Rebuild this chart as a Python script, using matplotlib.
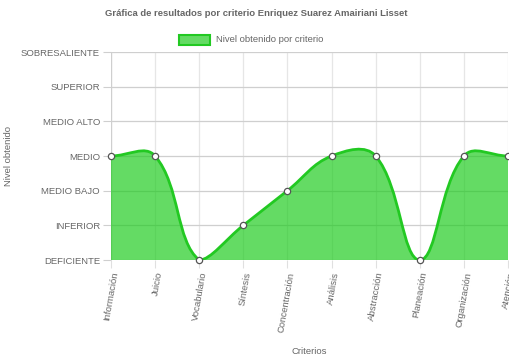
import numpy as np
import matplotlib
matplotlib.use("Agg")
import matplotlib.pyplot as plt
from matplotlib.path import Path
from matplotlib.patches import PathPatch, Rectangle

plt.rcParams['font.family'] = ['Liberation Sans', 'DejaVu Sans']

levels = ["DEFICIENTE", "INFERIOR", "MEDIO BAJO", "MEDIO", "MEDIO ALTO", "SUPERIOR", "SOBRESALIENTE"]
categories = ["Información", "Juicio", "Vocabulario", "Síntesis", "Concentración",
              "Análisis", "Abstracción", "Planeación", "Organización", "Atención"]
values = ["MEDIO", "MEDIO", "DEFICIENTE", "INFERIOR", "MEDIO BAJO",
          "MEDIO", "MEDIO", "DEFICIENTE", "MEDIO", "MEDIO"]

title = "Gráfica de resultados por criterio Enriquez Suarez Amairiani Lisset"
legend_label = "Nivel obtenido por criterio"
ylabel = "Nivel obtenido"
xlabel = "Criterios"

W, H = 510, 361
fig = plt.figure(figsize=(W / 100, H / 100), dpi=100)
L, R, T, B = 111, 508, 52, 260
ax = fig.add_axes([L / W, 1 - B / H, (R - L) / W, (B - T) / H])

n = len(categories)
xs = np.arange(n, dtype=float)
ys = np.array([levels.index(v) for v in values], dtype=float)
ax.set_xlim(0, n - 1)
ax.set_ylim(0, len(levels) - 1)

# Chart.js-style spline (tension 0.4), computed in pixel space, capped to area
sx = (R - L) / (n - 1)
sy = (B - T) / (len(levels) - 1)
P = np.column_stack([xs * sx, ys * sy])
t = 0.4
cps = []
lo = np.array([0.0, 0.0])
hi = np.array([(n - 1) * sx, (len(levels) - 1) * sy])
for i in range(n):
    prev = P[i - 1] if i > 0 else P[i]
    cur = P[i]
    nxt = P[i + 1] if i < n - 1 else P[i]
    d01 = np.hypot(*(cur - prev))
    d12 = np.hypot(*(nxt - cur))
    tot = d01 + d12
    s01 = d01 / tot if tot else 0
    s12 = d12 / tot if tot else 0
    cp_prev = np.clip(cur - t * s01 * (nxt - prev), lo, hi)
    cp_next = np.clip(cur + t * s12 * (nxt - prev), lo, hi)
    cps.append((cp_prev, cp_next))

def to_data(p):
    return (p[0] / sx, p[1] / sy)

verts = [to_data(P[0])]
codes = [Path.MOVETO]
for i in range(1, n):
    verts += [to_data(cps[i - 1][1]), to_data(cps[i][0]), to_data(P[i])]
    codes += [Path.CURVE4] * 3
line_path = Path(verts, codes)
fill_verts = verts + [(xs[-1], 0), (xs[0], 0), verts[0]]
fill_codes = codes + [Path.LINETO, Path.LINETO, Path.CLOSEPOLY]
fill_path = Path(fill_verts, fill_codes)

line_col = "#22c922"
fill_rgba = (34 / 255, 204 / 255, 34 / 255, 0.7)
ax.add_patch(PathPatch(fill_path, facecolor=fill_rgba, edgecolor='none', zorder=2))
ax.add_patch(PathPatch(line_path, facecolor='none', edgecolor=line_col, lw=2.0, zorder=3))
ax.plot(xs, ys, 'o', mfc='white', mec='#555555', mew=0.9, ms=4.5, zorder=4, clip_on=False)

# grid & ticks
ax.set_xticks(xs)
ax.set_xticklabels(categories, rotation=80, ha='right', va='top', rotation_mode='anchor')
ax.set_yticks(np.arange(len(levels)))
ax.set_yticklabels(levels)
for s in ax.spines.values():
    s.set_visible(False)
ax.grid(True, axis='x', color='#e6e6e6', lw=0.9, zorder=0)
ax.grid(True, axis='y', color='#cfcfcf', lw=0.9, zorder=0)
ax.set_axisbelow(True)
ax.tick_params(axis='x', length=6, color='#e0e0e0', labelsize=6.8, labelcolor='#666666', pad=2)
ax.tick_params(axis='y', length=6, color='#cfcfcf', labelsize=6.8, labelcolor='#666666', pad=2)
ax.axvline(0, color='#cfcfcf', lw=0.9, zorder=1)

fig.text(256 / W, 1 - 13 / H, title, ha='center', va='center', fontsize=6.8,
         fontweight='bold', color='#666666')
fig.patches.append(Rectangle((179 / W, 1 - 45 / H), 31 / W, 10 / H, transform=fig.transFigure,
                             facecolor=fill_rgba, edgecolor=line_col, lw=1.5))
fig.text(216 / W, 1 - 39.5 / H, legend_label, ha='left', va='center', fontsize=6.8, color='#666666')
fig.text(9 / W, 1 - 156 / H, ylabel, ha='center', va='center', rotation=90, fontsize=6.8, color='#666666')
fig.text(309 / W, 1 - 351 / H, xlabel, ha='center', va='center', fontsize=6.8, color='#666666')

fig.savefig("out.png", dpi=100)
